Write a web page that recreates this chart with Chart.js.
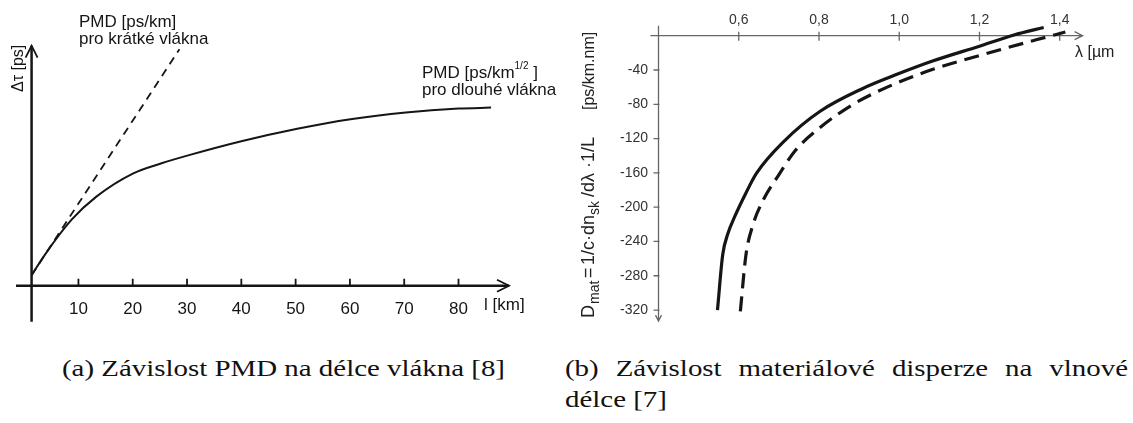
<!DOCTYPE html>
<html>
<head>
<meta charset="utf-8">
<script src="https://cdn.jsdelivr.net/npm/chart.js@4.4.0/dist/chart.umd.min.js"></script>
<style>
html, body { margin: 0; padding: 0; background: #fff; }
body { width: 1133px; height: 423px; position: relative; overflow: hidden; }
#pmd { position: absolute; left: 0; top: 0; }
#dmat { position: absolute; left: 575px; top: 0; }
.cap { position: absolute; font-family: 'Liberation Serif', 'Times New Roman', serif; font-size: 23px; color: #111;
       white-space: nowrap; line-height: 23px; transform-origin: 0 0; }
#capA { left: 62px; top: 357px; }
#capB1 { left: 565px; top: 357px; text-align: justify; text-align-last: justify; }
#capB2 { left: 565px; top: 388px; }
</style>
</head>
<body>
<canvas id="pmd" width="575" height="330"></canvas>
<canvas id="dmat" width="558" height="340"></canvas>
<div class="cap" id="capA">(a) Závislost PMD na délce vlákna [8]</div>
<div class="cap" id="capB1">(b) Závislost materiálové disperze na vlnové</div>
<div class="cap" id="capB2">délce [7]</div>

<script>
// --- (a) PMD vs fibre length ---
const lengthKm = [1.37, 4.0, 8.7, 13.3, 20.1, 25.3, 30.2, 40, 50.3, 60.1, 70.3, 80, 86];
const pmdLong = [4.4, 13.5, 27.4, 37.1, 46.8, 51, 54.3, 60.2, 65.4, 69.4, 72.2, 73.8, 74.2];
const shortKm = [1.37, 28.6];
const pmdShort = [4.4, 98.5];
const kmTicks = [10, 20, 30, 40, 50, 60, 70, 80];

// --- (b) material dispersion vs wavelength ---
const lambdaSolid = [0.547, 0.560, 0.573, 0.591, 0.618, 0.644, 0.714, 0.802, 0.908, 0.996, 1.083, 1.198, 1.286, 1.360];
const dmatSolid = [-320, -255.5, -230.8, -209.9, -183.4, -160.6, -122.6, -88.4, -61.8, -44.8, -29.6, -12.5, 0.8, 9.6];
const lambdaDashed = [0.604, 0.618, 0.635, 0.662, 0.697, 0.741, 0.802, 0.882, 0.970, 1.084, 1.207, 1.339, 1.414];
const dmatDashed = [-321.5, -255.5, -221.1, -190.8, -164.3, -133.9, -107.4, -80.9, -60, -39.2, -22.2, -5.1, 4.3];
const lambdaTicks = [0.6, 0.8, 1.0, 1.2, 1.4];
const dmatTicks = [-40, -80, -120, -160, -200, -240, -280, -320];

const INK = '#151515';
const GREY = '#666';
const SANS = "'Liberation Sans', Arial, sans-serif";

const toPts = (xs, ys) => xs.map((x, i) => ({ x, y: ys[i] }));

function line(ctx, x1, y1, x2, y2) { ctx.moveTo(x1, y1); ctx.lineTo(x2, y2); }

// axes with arrows for (a), drawn under the curves
const pmdAxes = {
    id: 'pmdAxes',
    beforeDatasetsDraw(chart) {
        const { ctx, scales: { x, y } } = chart;
        const ox = x.getPixelForValue(1.37);
        const oy = y.getPixelForValue(0);
        ctx.save();
        ctx.strokeStyle = INK;
        ctx.lineWidth = 2.5;
        ctx.beginPath();
        line(ctx, x.left, oy, x.right, oy);
        line(ctx, ox, oy + 36, ox, y.top);
        ctx.stroke();
        ctx.lineWidth = 1.8;
        ctx.beginPath();
        ctx.moveTo(x.right - 12, oy - 6); ctx.lineTo(x.right, oy); ctx.lineTo(x.right - 12, oy + 6);
        ctx.moveTo(ox - 6, y.top + 12); ctx.lineTo(ox, y.top); ctx.lineTo(ox + 6, y.top + 12);
        ctx.stroke();
        ctx.beginPath();
        kmTicks.forEach(v => { const px = x.getPixelForValue(v); line(ctx, px, oy, px, oy - 7); });
        ctx.stroke();
        ctx.restore();
    },
    afterDraw(chart) {
        const { ctx } = chart;
        ctx.save();
        ctx.fillStyle = INK;
        ctx.textBaseline = 'alphabetic';
        ctx.font = `17px ${SANS}`;
        ctx.fillText('PMD [ps/km]', 79, 27);
        ctx.fillText('pro krátké vlákna', 79, 44);
        ctx.fillText('PMD [ps/km', 422, 78);
        const w = ctx.measureText('PMD [ps/km').width;
        ctx.font = `10px ${SANS}`;
        ctx.fillText('1/2', 422 + w, 69);
        const w2 = ctx.measureText('1/2').width;
        ctx.font = `17px ${SANS}`;
        ctx.fillText(' ]', 422 + w + w2, 78);
        ctx.fillText('pro dlouhé vlákna', 422, 95);
        ctx.fillText('l [km]', 484, 310);
        ctx.font = `16px ${SANS}`;
        ctx.translate(23, 92);
        ctx.rotate(-Math.PI / 2);
        ctx.fillText('Δτ [ps]', 0, 0);
        ctx.restore();
    }
};

new Chart(document.getElementById('pmd'), {
    type: 'scatter',
    data: {
        datasets: [
            { data: toPts(lengthKm, pmdLong), showLine: true, borderColor: INK, borderWidth: 2, pointRadius: 0, cubicInterpolationMode: 'monotone', clip: false },
            { data: toPts(shortKm, pmdShort), showLine: true, borderColor: INK, borderWidth: 1.8, borderDash: [8, 6], pointRadius: 0, clip: false }
        ]
    },
    options: {
        responsive: false,
        animation: false,
        events: [],
        layout: { padding: { left: 16, right: 66, top: 45.7, bottom: 0 } },
        plugins: { legend: { display: false }, tooltip: { enabled: false } },
        scales: {
            x: {
                type: 'linear', min: -1.5, max: 89.3,
                afterBuildTicks: s => { s.ticks = kmTicks.map(v => ({ value: v })); },
                afterFit: s => { s.height = 44.3; },
                grid: { display: false, drawTicks: false },
                border: { display: false },
                ticks: { font: { family: SANS, size: 17 }, color: INK, padding: 13, maxRotation: 0, autoSkip: false }
            },
            y: { display: false, min: 0, max: 100 }
        }
    },
    plugins: [pmdAxes]
});

// axes for (b): thin grey, x axis on top
const dmatAxes = {
    id: 'dmatAxes',
    beforeDatasetsDraw(chart) {
        const { ctx, scales: { x, y } } = chart;
        const ox = x.getPixelForValue(0.4);
        const oy = y.getPixelForValue(0);
        ctx.save();
        ctx.strokeStyle = GREY;
        ctx.lineWidth = 1.3;
        ctx.beginPath();
        line(ctx, ox - 8, oy, x.right, oy);
        line(ctx, ox, oy - 10, ox, y.bottom);
        ctx.moveTo(x.right - 8, oy - 4); ctx.lineTo(x.right, oy); ctx.lineTo(x.right - 8, oy + 4);
        ctx.moveTo(ox - 3, y.bottom - 6); ctx.lineTo(ox, y.bottom); ctx.lineTo(ox + 3, y.bottom - 6);
        lambdaTicks.forEach(v => { const px = x.getPixelForValue(v); line(ctx, px, oy - 4, px, oy + 5); });
        dmatTicks.forEach(v => { const py = y.getPixelForValue(v); line(ctx, ox - 5, py, ox + 1, py); });
        ctx.stroke();
        ctx.restore();
    },
    afterDraw(chart) {
        const { ctx } = chart;
        ctx.save();
        ctx.fillStyle = '#222';
        ctx.font = `16px ${SANS}`;
        ctx.fillText('λ [µm', 500, 57);
        // rotated y title; each piece: text, offset along the axis from the bottom, size, baseline shift
        ctx.translate(19, 318);
        ctx.rotate(-Math.PI / 2);
        const parts = [
            ['D', 0, 18, 0], ['mat', 14, 14, 5], ['=', 40, 18, 0], ['1/c·dn', 53, 18, 0], ['sk', 103, 14, 5],
            ['/dλ ·1/L', 121, 18, 0], ['[ps/km.nm]', 208, 16, 0]
        ];
        parts.forEach(([t, u, size, dy]) => {
            ctx.font = `${size}px ${SANS}`;
            ctx.fillText(t, u, dy);
        });
        ctx.restore();
    }
};

new Chart(document.getElementById('dmat'), {
    type: 'scatter',
    data: {
        datasets: [
            { data: toPts(lambdaSolid, dmatSolid), showLine: true, borderColor: INK, borderWidth: 3.2, pointRadius: 0, cubicInterpolationMode: 'monotone', clip: false },
            { data: toPts(lambdaDashed, dmatDashed), showLine: true, borderColor: INK, borderWidth: 3.2, borderDash: [15, 8], pointRadius: 0, cubicInterpolationMode: 'monotone', clip: false }
        ]
    },
    options: {
        responsive: false,
        animation: false,
        events: [],
        layout: { padding: { left: 0, right: 50.4, top: 0, bottom: 12 } },
        plugins: { legend: { display: false }, tooltip: { enabled: false } },
        scales: {
            x: {
                type: 'linear', position: 'top', min: 0.4, max: 1.457,
                afterBuildTicks: s => { s.ticks = lambdaTicks.map(v => ({ value: v })); },
                afterFit: s => { s.height = 35.7; },
                grid: { display: false, drawTicks: false },
                border: { display: false },
                ticks: { font: { family: SANS, size: 14 }, color: '#333', padding: 7, maxRotation: 0, autoSkip: false,
                    callback: v => v.toFixed(1).replace('.', ',') }
            },
            y: {
                type: 'linear', min: -332.9, max: 0,
                afterBuildTicks: s => { s.ticks = dmatTicks.map(v => ({ value: v })); },
                afterFit: s => { s.width = 83.5; },
                grid: { display: false, drawTicks: false },
                border: { display: false },
                ticks: { font: { family: SANS, size: 14 }, color: '#333', padding: 10.5, autoSkip: false }
            }
        }
    },
    plugins: [dmatAxes]
});

// captions: stretch the serif text sideways to the width it has in the figure
const capA = document.getElementById('capA');
const sx = 443 / capA.getBoundingClientRect().width;
['capA', 'capB1', 'capB2'].forEach(id => {
    document.getElementById(id).style.transform = `scaleX(${sx})`;
});
document.getElementById('capB1').style.width = `${563 / sx}px`;
</script>
</body>
</html>
